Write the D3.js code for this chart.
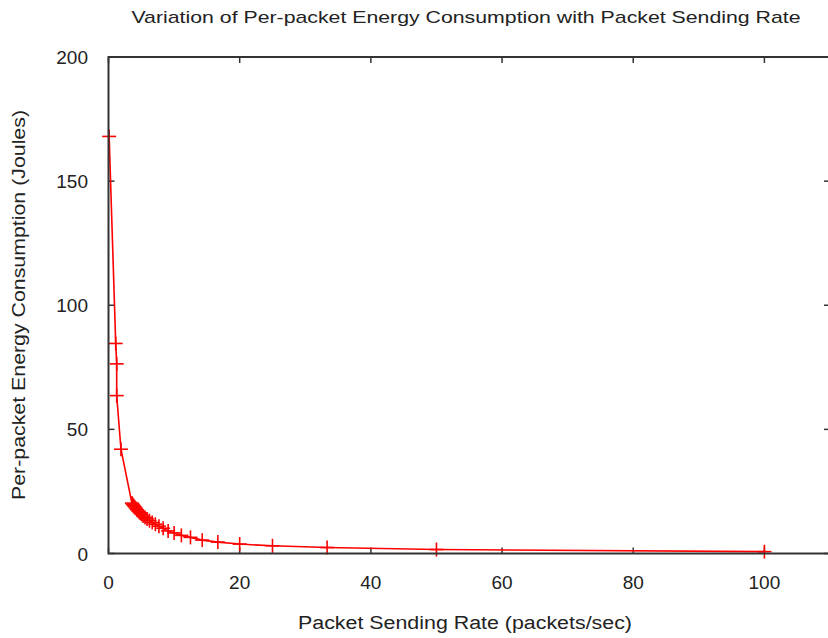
<!DOCTYPE html>
<html>
<head>
<meta charset="utf-8">
<script src="https://cdn.jsdelivr.net/npm/d3@7/dist/d3.min.js"></script>
<style>
  html, body { margin: 0; padding: 0; background: #fff; }
  svg { display: block; }
  text { font-family: "Liberation Sans", Arial, sans-serif; fill: #222; }
</style>
</head>
<body>
<svg id="chart" width="828" height="638"></svg>
<script>
// ---- data ----
const sendingRate = [0.1, 1.1, 1.25, 1.25, 1.9,
  3.57, 3.7, 3.85, 4.0, 4.17, 4.35, 4.55, 4.76, 5.0, 5.26, 5.56, 5.88, 6.25, 6.67,
  7.14, 7.69, 8.33, 9.09, 10.0, 11.11, 12.5, 14.29, 16.67, 20.0, 25.0, 33.33, 50.0, 100.0];
const energyPerPacket = [168, 84.6, 76.4, 63.6, 42,
  20.3, 19.8, 19.3, 18.8, 18.2, 17.6, 17.0, 16.4, 15.8, 15.1, 14.5, 13.9, 13.2, 12.5,
  11.8, 11.0, 10.2, 9.1, 8.3, 7.3, 6.5, 5.4, 4.6, 3.8, 3.1, 2.4, 1.6, 0.75];
const xTicks = [0, 20, 40, 60, 80, 100];
const yTicks = [0, 50, 100, 150, 200];
const titleText = "Variation of Per-packet Energy Consumption with Packet Sending Rate";
const xLabelText = "Packet Sending Rate (packets/sec)";
const yLabelText = "Per-packet Energy Consumption (Joules)";

// ---- layout ----
const svg = d3.select("#chart");
const pLeft = 108.5, pRight = 830, pTop = 57, pBottom = 553.5;
const x = d3.scaleLinear().domain([0, 110]).range([pLeft, pRight]);
const y = d3.scaleLinear().domain([0, 200]).range([pBottom, pTop]);
const tickLen = 6;

const g = svg.append("g");

// ticks (inward, mirrored)
const axisColor = "#333";
g.selectAll(".xtb").data(xTicks).enter().append("line")
  .attr("x1", d => x(d)).attr("x2", d => x(d))
  .attr("y1", pBottom).attr("y2", pBottom - tickLen)
  .attr("stroke", axisColor).attr("stroke-width", 1.5);
g.selectAll(".xtt").data(xTicks).enter().append("line")
  .attr("x1", d => x(d)).attr("x2", d => x(d))
  .attr("y1", pTop).attr("y2", pTop + tickLen)
  .attr("stroke", axisColor).attr("stroke-width", 1.5);
g.selectAll(".ytl").data(yTicks).enter().append("line")
  .attr("x1", pLeft).attr("x2", pLeft + tickLen)
  .attr("y1", d => y(d)).attr("y2", d => y(d))
  .attr("stroke", axisColor).attr("stroke-width", 1.5);
g.selectAll(".ytr").data(yTicks).enter().append("line")
  .attr("x1", pRight).attr("x2", pRight - tickLen)
  .attr("y1", d => y(d)).attr("y2", d => y(d))
  .attr("stroke", axisColor).attr("stroke-width", 1.5);

// tick labels
g.selectAll(".xl").data(xTicks).enter().append("text")
  .attr("x", d => x(d)).attr("y", 589)
  .attr("text-anchor", "middle").attr("font-size", 19)
  .text(d => d);
g.selectAll(".yl").data(yTicks).enter().append("text")
  .attr("x", 88).attr("y", d => y(d) + 7)
  .attr("text-anchor", "end").attr("font-size", 19)
  .text(d => d);

// data line and points
const pts = sendingRate.map((r, i) => [r, energyPerPacket[i]]);
const line = d3.line().x(d => x(d[0])).y(d => y(d[1]));
g.append("path").datum(pts)
  .attr("d", line)
  .attr("fill", "none").attr("stroke", "#ff0000").attr("stroke-width", 1.6);

const cs = 7;
const pg = g.append("g");
pts.forEach(d => {
  const cx = x(d[0]), cy = y(d[1]);
  pg.append("line").attr("x1", cx - cs).attr("x2", cx + cs).attr("y1", cy).attr("y2", cy)
    .attr("stroke", "#ff0000").attr("stroke-width", 1.6);
  pg.append("line").attr("x1", cx).attr("x2", cx).attr("y1", cy - cs).attr("y2", cy + cs)
    .attr("stroke", "#ff0000").attr("stroke-width", 1.6);
});

// border
g.append("rect").attr("x", pLeft).attr("y", pTop)
  .attr("width", pRight - pLeft).attr("height", pBottom - pTop)
  .attr("fill", "none").attr("stroke", axisColor).attr("stroke-width", 2);

// titles
svg.append("text").attr("x", 466).attr("y", 23)
  .attr("text-anchor", "middle").attr("font-size", 17)
  .attr("textLength", 669).attr("lengthAdjust", "spacingAndGlyphs")
  .text(titleText);
svg.append("text").attr("x", 465).attr("y", 629)
  .attr("text-anchor", "middle").attr("font-size", 18)
  .attr("textLength", 334).attr("lengthAdjust", "spacingAndGlyphs")
  .text(xLabelText);
svg.append("text")
  .attr("transform", "translate(25,305) rotate(-90)")
  .attr("text-anchor", "middle").attr("font-size", 18)
  .attr("textLength", 390).attr("lengthAdjust", "spacingAndGlyphs")
  .text(yLabelText);
</script>
</body>
</html>
